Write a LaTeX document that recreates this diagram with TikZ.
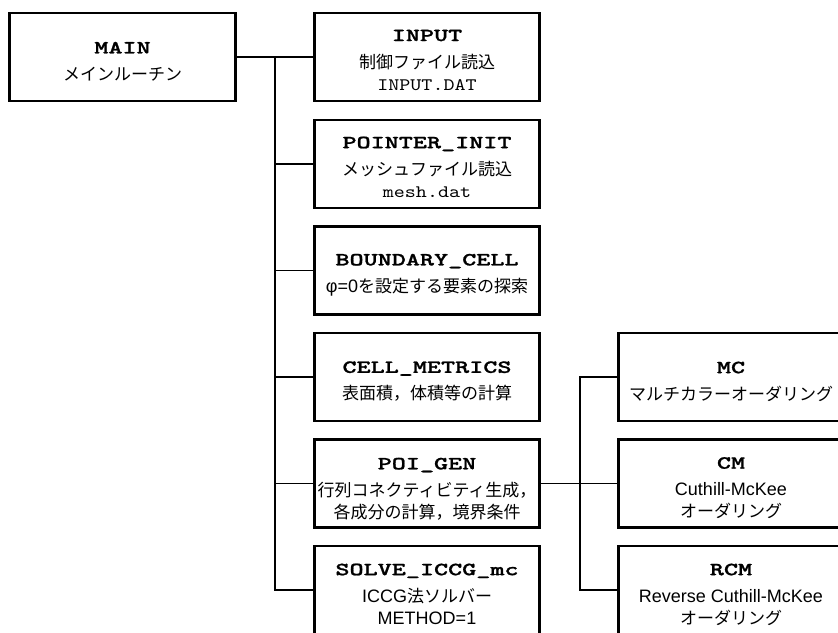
\documentclass[tikz,border=0pt]{standalone}
\usepackage{fontspec}
\setmainfont{Liberation Sans}
\newfontfamily\jpf{Noto Sans CJK JP}
\newfontfamily\monof[FakeStretch=1.2]{lmmono10-regular.otf}
\newfontfamily\titlef[FakeStretch=1.45,FakeBold=1.2]{lmmonolt10-bold.otf}
\usetikzlibrary{calc}
\newcommand\ttl[1]{{\titlef\fontsize{18.5}{22}\selectfont #1}}
\newcommand\jp[1]{{\jpf\fontsize{17}{22}\selectfont #1}}
\newcommand\mn[1]{{\monof\fontsize{17.5}{22}\selectfont #1}}
\begin{document}
\begin{tikzpicture}[x=1pt,y=-1pt,
  box/.style={draw, line width=2.6pt, minimum width=225.5pt, minimum height=88pt, inner sep=0pt},
  txt/.style={align=center, inner sep=0pt, font=\fontsize{18}{22}\selectfont},
  link/.style={line width=1.1pt}]
\useasboundingbox (0,0) rectangle (838,632);
\fill[white] (0,0) rectangle (838,632);

% left
\node[box, minimum width=226pt] (main) at (122.5,57) {};
\node[txt] (maint) at (122.5,61.5) {\ttl{MAIN}\\[5pt]\jp{メインルーチン}};

% middle column
\node[box] (input) at (427,57) {};
\node[txt] (inputt) at (427,60) {\ttl{INPUT}\\[5pt]\jp{制御ファイル読込}\\\mn{INPUT.DAT}};
\node[box] (pointer) at (427,164) {};
\node[txt] (pointert) at (427,167) {\ttl{POINTER\_INIT}\\[5pt]\jp{メッシュファイル読込}\\\mn{mesh.dat}};
\node[box] (boundary) at (427,270.5) {};
\node[txt] (boundaryt) at (427,275) {\ttl{BOUNDARY\_CELL}\\[5pt]φ=0\jp{を設定する要素の探索}};
\node[box] (cell) at (427,377) {};
\node[txt] (cellt) at (427,381.5) {\ttl{CELL\_METRICS}\\[5pt]\jp{表面積，体積等の計算}};
\node[box] (poi) at (427,483.5) {};
\node[txt] (poit) at (427,489) {\ttl{POI\_GEN}\\[5pt]\jp{行列コネクティビティ生成，}\\\jp{各成分の計算，境界条件}};
\node[box] (solve) at (427,590) {};
\node[txt] (solvet) at (427,594) {\ttl{SOLVE\_ICCG\_mc}\\[5pt]ICCG\jp{法ソルバー}\\METHOD=1};

% right column
\node[box] (mc) at (731,377) {};
\node[txt] (mct) at (731,381.5) {\ttl{MC}\\[5pt]\jp{マルチカラーオーダリング}};
\node[box] (cm) at (731,483.5) {};
\node[txt] (cmt) at (731,488) {\ttl{CM}\\[5pt]Cuthill-McKee\\\jp{オーダリング}};
\node[box] (rcm) at (731,590) {};
\node[txt] (rcmt) at (731,594.5) {\ttl{RCM}\\[5pt]Reverse Cuthill-McKee\\\jp{オーダリング}};

% connectors
\coordinate (tr) at (275,0);
\coordinate (st) at (580,0);
\draw[link] (main.east) -- (input.west);
\draw[link] (tr |- input.west) -- (tr |- solve.west) -- (solve.west);
\foreach \n in {pointer,boundary,cell,poi} \draw[link] (tr |- \n.west) -- (\n.west);
\draw[link] (poi.east) -- (cm.west);
\draw[link] (mc.west) -- (st |- mc.west) -- (st |- rcm.west) -- (rcm.west);
\end{tikzpicture}
\end{document}
